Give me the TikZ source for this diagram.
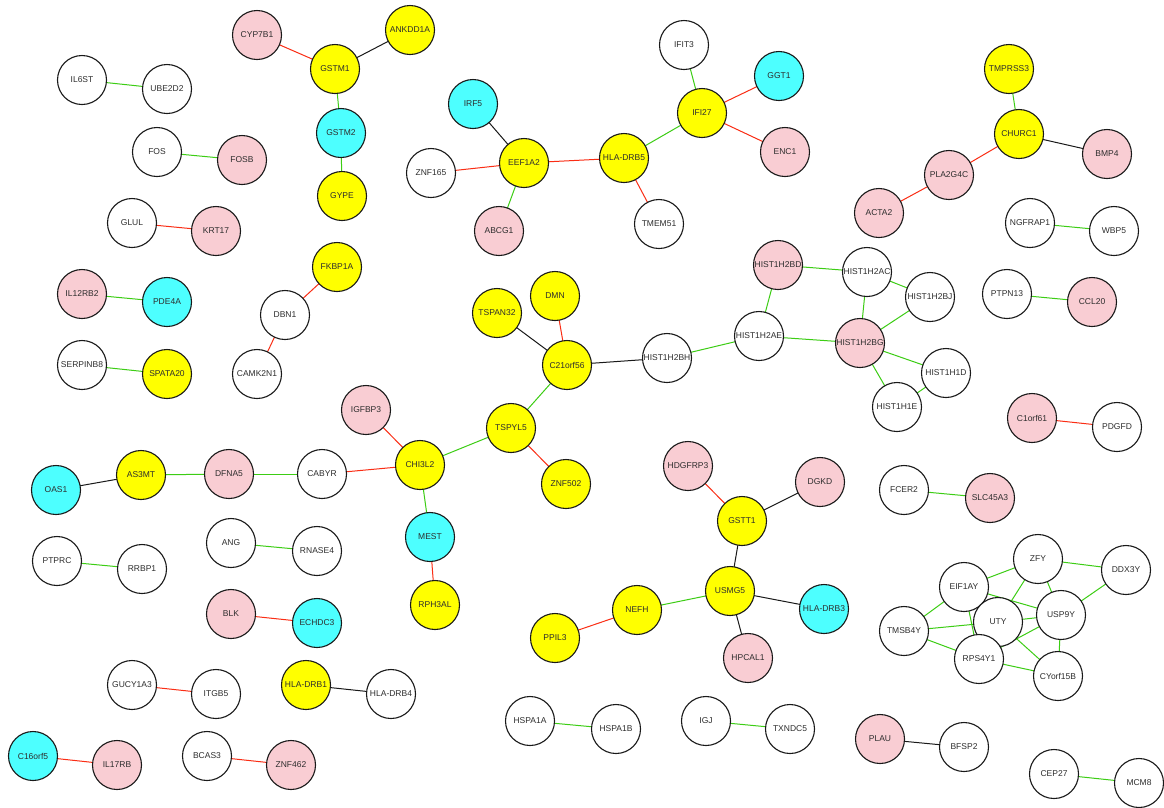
\documentclass[tikz,border=0pt]{standalone}
\usepackage{fontspec}
\setmainfont{Liberation Sans}
\usetikzlibrary{backgrounds}
\definecolor{gpink}{RGB}{249,205,211}
\definecolor{gcyan}{RGB}{77,255,255}
\definecolor{gyellow}{RGB}{255,255,0}
\definecolor{egreen}{RGB}{60,205,20}
\definecolor{ered}{RGB}{250,45,20}
\definecolor{txt}{RGB}{45,45,45}
\tikzset{
  gene/.style={circle, draw=black!90, line width=1.1pt, minimum size=49pt, inner sep=0pt,
    font=\fontsize{8.5}{10}\selectfont, text=txt},
  wn/.style={gene, fill=white},
  pk/.style={gene, fill=gpink},
  cy/.style={gene, fill=gcyan},
  ye/.style={gene, fill=gyellow},
  eg/.style={draw=egreen, line width=1pt},
  er/.style={draw=ered, line width=1pt},
  ek/.style={draw=black!90, line width=1pt},
}
\begin{document}
\begin{tikzpicture}[x=1pt,y=-1pt]
\useasboundingbox (0,0) rectangle (1164,807);
% white nodes
\node[wn] (IL6ST) at (82,80) {IL6ST};
\node[wn] (UBE2D2) at (167,89) {UBE2D2};
\node[wn] (FOS) at (157,152) {FOS};
\node[wn] (GLUL) at (132,223) {GLUL};
\node[wn] (ZNF165) at (431,173) {ZNF165};
\node[wn] (TMEM51) at (659,224) {TMEM51};
\node[wn] (IFIT3) at (684,45) {IFIT3};
\node[wn] (NGFRAP1) at (1030,223) {NGFRAP1};
\node[wn] (WBP5) at (1114,231) {WBP5};
\node[wn] (SERPINB8) at (82,365) {SERPINB8};
\node[wn] (DBN1) at (285,315) {DBN1};
\node[wn] (CAMK2N1) at (257,374) {CAMK2N1};
\node[wn] (CABYR) at (322,474) {CABYR};
\node[wn] (HIST1H2BH) at (667,358) {HIST1H2BH};
\node[wn] (HIST1H2AE) at (759,336) {HIST1H2AE};
\node[wn] (HIST1H2AC) at (867,272) {HIST1H2AC};
\node[wn] (HIST1H2BJ) at (930,297) {HIST1H2BJ};
\node[wn] (HIST1H1D) at (946,373) {HIST1H1D};
\node[wn] (HIST1H1E) at (897,407) {HIST1H1E};
\node[wn] (PTPN13) at (1007,294) {PTPN13};
\node[wn] (PDGFD) at (1117,427) {PDGFD};
\node[wn] (FCER2) at (904,490) {FCER2};
\node[wn] (PTPRC) at (57,561) {PTPRC};
\node[wn] (RRBP1) at (142,569) {RRBP1};
\node[wn] (ANG) at (231,543) {ANG};
\node[wn] (RNASE4) at (317,551) {RNASE4};
\node[wn] (GUCY1A3) at (132,685) {GUCY1A3};
\node[wn] (ITGB5) at (216,694) {ITGB5};
\node[wn] (HLADRB4) at (391,694) {HLA-DRB4};
\node[wn] (BCAS3) at (207,756) {BCAS3};
\node[wn] (HSPA1A) at (530,721) {HSPA1A};
\node[wn] (HSPA1B) at (616,729) {HSPA1B};
\node[wn] (IGJ) at (706,721) {IGJ};
\node[wn] (TXNDC5) at (790,729) {TXNDC5};
\node[wn] (BFSP2) at (964,747) {BFSP2};
\node[wn] (CEP27) at (1054,774) {CEP27};
\node[wn] (MCM8) at (1139,783) {MCM8};
\node[wn] (ZFY) at (1038,559) {ZFY};
\node[wn] (DDX3Y) at (1126,570) {DDX3Y};
\node[wn] (USP9Y) at (1061,615) {USP9Y};
\node[wn] (TMSB4Y) at (904,631) {TMSB4Y};
\node[wn] (CYorf15B) at (1058,676) {CYorf15B};
\node[wn] (EIF1AY) at (964,587) {EIF1AY};
\node[wn] (UTY) at (998,622) {UTY};
\node[wn] (RPS4Y1) at (979,659) {RPS4Y1};
% pink nodes
\node[pk] (CYP7B1) at (257,35) {CYP7B1};
\node[pk] (FOSB) at (242,160) {FOSB};
\node[pk] (KRT17) at (216,231) {KRT17};
\node[pk] (ABCG1) at (499,231) {ABCG1};
\node[pk] (ENC1) at (785,152) {ENC1};
\node[pk] (BMP4) at (1107,154) {BMP4};
\node[pk] (PLA2G4C) at (949,175) {PLA2G4C};
\node[pk] (ACTA2) at (879,213) {ACTA2};
\node[pk] (IL12RB2) at (82,294) {IL12RB2};
\node[pk] (IGFBP3) at (366,410) {IGFBP3};
\node[pk] (DFNA5) at (229,474) {DFNA5};
\node[pk] (HIST1H2BD) at (778,265) {HIST1H2BD};
\node[pk] (HIST1H2BG) at (860,343) {HIST1H2BG};
\node[pk] (CCL20) at (1092,302) {CCL20};
\node[pk] (C1orf61) at (1032,418) {C1orf61};
\node[pk] (HDGFRP3) at (688,466) {HDGFRP3};
\node[pk] (DGKD) at (820,482) {DGKD};
\node[pk] (HPCAL1) at (748,658) {HPCAL1};
\node[pk] (SLC45A3) at (990,498) {SLC45A3};
\node[pk] (BLK) at (231,614) {BLK};
\node[pk] (IL17RB) at (117,765) {IL17RB};
\node[pk] (ZNF462) at (291,765) {ZNF462};
\node[pk] (PLAU) at (880,739) {PLAU};
% cyan nodes
\node[cy] (GSTM2) at (341,133) {GSTM2};
\node[cy] (IRF5) at (473,104) {IRF5};
\node[cy] (GGT1) at (779,76) {GGT1};
\node[cy] (PDE4A) at (167,302) {PDE4A};
\node[cy] (OAS1) at (56,490) {OAS1};
\node[cy] (MEST) at (430,537) {MEST};
\node[cy] (HLADRB3) at (824,609) {HLA-DRB3};
\node[cy] (ECHDC3) at (317,623) {ECHDC3};
\node[cy] (C16orf5) at (33,756) {C16orf5};
% yellow nodes
\node[ye] (GSTM1) at (335,69) {GSTM1};
\node[ye] (ANKDD1A) at (410,30) {ANKDD1A};
\node[ye] (GYPE) at (342,196) {GYPE};
\node[ye] (EEF1A2) at (524,163) {EEF1A2};
\node[ye] (HLADRB5) at (624,158) {HLA-DRB5};
\node[ye] (IFI27) at (702,113) {IFI27};
\node[ye] (TMPRSS3) at (1009,69) {TMPRSS3};
\node[ye] (CHURC1) at (1019,134) {CHURC1};
\node[ye] (FKBP1A) at (337,267) {FKBP1A};
\node[ye] (SPATA20) at (167,374) {SPATA20};
\node[ye] (TSPAN32) at (497,313) {TSPAN32};
\node[ye] (DMN) at (555,296) {DMN};
\node[ye] (C21orf56) at (567,365) {C21orf56};
\node[ye] (TSPYL5) at (511,428) {TSPYL5};
\node[ye] (ZNF502) at (566,484) {ZNF502};
\node[ye] (CHI3L2) at (420,465) {CHI3L2};
\node[ye] (AS3MT) at (141,475) {AS3MT};
\node[ye] (RPH3AL) at (435,605) {RPH3AL};
\node[ye] (GSTT1) at (742,521) {GSTT1};
\node[ye] (USMG5) at (730,591) {USMG5};
\node[ye] (NEFH) at (637,610) {NEFH};
\node[ye] (PPIL3) at (555,638) {PPIL3};
\node[ye] (HLADRB1) at (306,685) {HLA-DRB1};
\begin{scope}[on background layer]
\fill[white] (0,0) rectangle (1164,807);
% green edges
\foreach \a/\b in {IL6ST/UBE2D2, FOS/FOSB, GSTM1/GSTM2, GSTM2/GYPE, IL12RB2/PDE4A,
  SERPINB8/SPATA20, EEF1A2/ABCG1, HLADRB5/IFI27, IFIT3/IFI27, TMPRSS3/CHURC1,
  NGFRAP1/WBP5, HIST1H2BD/HIST1H2AC, HIST1H2BD/HIST1H2AE, HIST1H2AC/HIST1H2BJ,
  HIST1H2AC/HIST1H2BG, HIST1H2BJ/HIST1H2BG, HIST1H2AE/HIST1H2BG, HIST1H2BG/HIST1H1D,
  HIST1H2BG/HIST1H1E, HIST1H1D/HIST1H1E, HIST1H2AE/HIST1H2BH, C21orf56/TSPYL5,
  TSPYL5/CHI3L2, PTPN13/CCL20, CABYR/DFNA5, DFNA5/AS3MT, CHI3L2/MEST, USMG5/NEFH,
  FCER2/SLC45A3, PTPRC/RRBP1, ANG/RNASE4, HSPA1A/HSPA1B, IGJ/TXNDC5, CEP27/MCM8,
  EIF1AY/ZFY, ZFY/DDX3Y, ZFY/USP9Y, ZFY/UTY, DDX3Y/USP9Y, EIF1AY/USP9Y, EIF1AY/TMSB4Y,
  EIF1AY/RPS4Y1, UTY/USP9Y, TMSB4Y/UTY, TMSB4Y/RPS4Y1, RPS4Y1/USP9Y, UTY/CYorf15B,
  USP9Y/CYorf15B, RPS4Y1/CYorf15B, UTY/RPS4Y1}
  \draw[eg] (\a.center) -- (\b.center);
% red edges
\foreach \a/\b in {GLUL/KRT17, CYP7B1/GSTM1, FKBP1A/DBN1, DBN1/CAMK2N1, ZNF165/EEF1A2,
  EEF1A2/HLADRB5, HLADRB5/TMEM51, IFI27/GGT1, IFI27/ENC1, CHURC1/PLA2G4C,
  PLA2G4C/ACTA2, C21orf56/DMN, TSPYL5/ZNF502, C1orf61/PDGFD, IGFBP3/CHI3L2,
  CHI3L2/CABYR, MEST/RPH3AL, HDGFRP3/GSTT1, NEFH/PPIL3, BLK/ECHDC3, GUCY1A3/ITGB5,
  C16orf5/IL17RB, BCAS3/ZNF462}
  \draw[er] (\a.center) -- (\b.center);
% black edges
\foreach \a/\b in {GSTM1/ANKDD1A, IRF5/EEF1A2, CHURC1/BMP4, HIST1H2BH/C21orf56,
  C21orf56/TSPAN32, AS3MT/OAS1, GSTT1/DGKD, GSTT1/USMG5, USMG5/HLADRB3,
  USMG5/HPCAL1, HLADRB1/HLADRB4, PLAU/BFSP2}
  \draw[ek] (\a.center) -- (\b.center);
\end{scope}
\end{tikzpicture}
\end{document}
